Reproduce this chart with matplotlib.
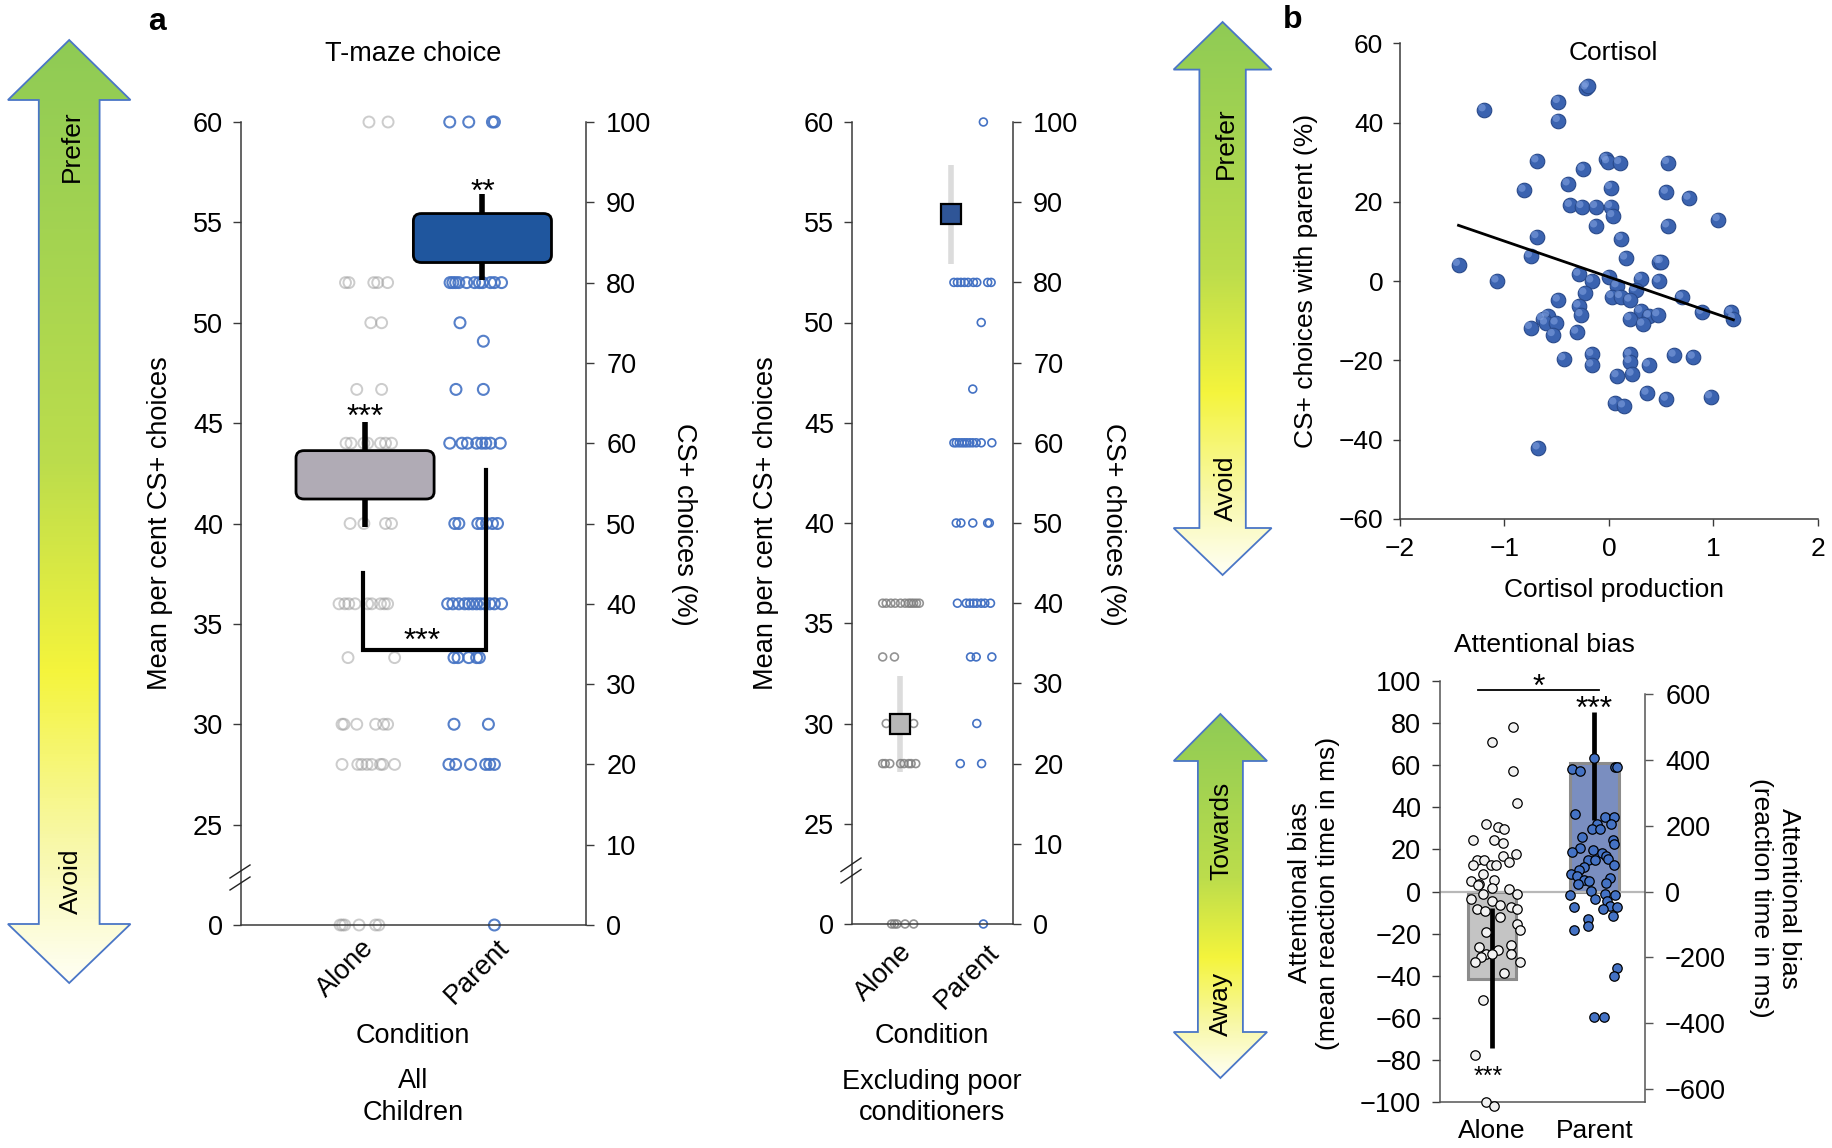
import numpy as np
import matplotlib
matplotlib.use('Agg')
import matplotlib.pyplot as plt
from matplotlib.patches import FancyBboxPatch, Polygon
from matplotlib.colors import LinearSegmentedColormap
from matplotlib.transforms import ScaledTranslation

plt.rcParams['font.family'] = ['Liberation Sans', 'DejaVu Sans']
plt.rcParams['axes.unicode_minus'] = True

# ---------------- data ----------------
conditions = ['Alone', 'Parent']

# Panel a (all children): CS+ choices (%) per child, rows of equal value with horizontal jitter
a1_alone_levels = [100, 80, 75, 66.7, 60, 50, 40, 33.3, 25, 20, 0]
a1_alone_jitter = [[0.034, 0.20],
                   [-0.17, -0.14, 0.076, 0.11, 0.196],
                   [0.05, 0.144],
                   [-0.072, 0.144],
                   [-0.165, -0.122, -0.01, 0.023, 0.134, 0.178, 0.23],
                   [-0.13, -0.01, 0.178, 0.23],
                   [-0.226, -0.176, -0.142, -0.087, 0.023, 0.058, 0.134, 0.168, 0.196],
                   [-0.148, 0.257],
                   [-0.2, -0.183, -0.072, 0.092, 0.161, 0.196],
                   [-0.2, -0.063, -0.028, 0.017, 0.058, 0.134, 0.154, 0.257],
                   [-0.217, -0.197, -0.176, -0.052, 0.092, 0.12]]
a1_parent_levels = [100, 80, 75, 72.7, 66.7, 60, 50, 40, 33.3, 25, 20, 0]
a1_parent_jitter = [[-0.264, -0.099, 0.107, 0.124],
                    [-0.261, -0.237, -0.213, -0.185, -0.117, -0.048, -0.007, 0.021, 0.09, 0.124, 0.186],
                    [-0.175],
                    [0.028],
                    [-0.21, 0.028],
                    [-0.264, -0.158, -0.11, -0.03, 0.014, 0.049, 0.09, 0.175],
                    [-0.22, -0.185, -0.02, 0.014, 0.056, 0.107, 0.151],
                    [-0.282, -0.237, -0.185, -0.134, -0.099, -0.065, -0.03, 0.003, 0.038, 0.083, 0.124, 0.186],
                    [-0.227, -0.192, -0.099, -0.03, -0.007],
                    [-0.227, 0.072],
                    [-0.271, -0.213, -0.083, 0.049, 0.083, 0.124],
                    [0.124]]
# box (mean per cent CS+ choices, left-axis units)
a1_box_low = [41.22, 53.0]
a1_box_high = [43.63, 55.44]
a1_whisk_low = [39.84, 52.12]
a1_whisk_high = [45.08, 56.4]
a1_bracket = [37.52, 33.68, 42.68]   # left top, bottom, right top (left-axis units)

# Panel a (excluding poor conditioners)
a2_alone_levels = [40, 33.3, 25, 20, 0]
a2_alone_jitter = [[-0.243, -0.194, -0.129, -0.069, 0.006, 0.069, 0.119, 0.153, 0.189, 0.228, 0.268],
                   [-0.243, -0.079],
                   [-0.194, -0.06, -0.01, 0.054, 0.089, 0.189],
                   [-0.243, -0.208, -0.144, 0.006, 0.054, 0.119, 0.153, 0.218],
                   [-0.119, -0.079, -0.044, 0.069, 0.189]]
a2_parent_levels = [100, 80, 75, 66.7, 60, 50, 40, 33.3, 25, 20, 0]
a2_parent_jitter = [[0.161],
                    [-0.25, -0.201, -0.153, -0.103, -0.053, 0.022, 0.069, 0.221, 0.269],
                    [0.131],
                    [0.013],
                    [-0.25, -0.217, -0.176, -0.138, -0.103, -0.068, -0.028, 0.013, 0.061, 0.131, 0.279],
                    [-0.217, -0.153, 0.013, 0.221, 0.244],
                    [-0.201, -0.078, -0.028, 0.022, 0.069, 0.131, 0.181, 0.26],
                    [-0.018, 0.061, 0.279],
                    [0.069],
                    [-0.161, 0.136],
                    [0.161]]
a2_mean = [30.0, 55.4]          # left-axis units
a2_err_low = [27.6, 52.92]
a2_err_high = [32.36, 57.88]

left_ticks = [0, 25, 30, 35, 40, 45, 50, 55, 60]
right_ticks = [0, 10, 20, 30, 40, 50, 60, 70, 80, 90, 100]

# Panel b: cortisol scatter
cort_x = [-1.194, -0.484, -0.484, -0.217, -0.205, -0.689, -0.025, -0.012, 0.103, 0.562,
          -0.246, -0.812, -0.390, 0.016, 0.550, 0.767, -0.369, -0.258, -0.127, 0.016,
          0.037, 1.046, -0.127, 0.562, -0.689, 0.119, -0.751, 0.160, 0.480, 0.501,
          -1.440, -1.071, -0.287, -0.164, -0.004, 0.304, 0.480, 0.078, 0.254, -0.484,
          -0.230, 0.029, 0.111, 0.201, 0.698, -0.287, -0.267, 0.304, 0.890, 1.169,
          1.190, 0.386, 0.468, -0.587, -0.636, -0.607, -0.505, 0.201, 0.324, -0.751,
          -0.533, -0.308, -0.431, -0.164, -0.164, 0.201, 0.201, 0.624, 0.808, 0.378,
          0.078, 0.222, 0.365, 0.550, 0.973, 0.057, 0.140, -0.677]
cort_y = [43.2, 45.3, 40.5, 48.7, 49.2, 30.3, 30.8, 30.1, 29.9, 29.9,
          28.2, 22.9, 24.5, 23.6, 22.4, 20.9, 19.1, 18.8, 18.8, 18.8,
          16.5, 15.5, 13.9, 13.9, 11.2, 10.7, 6.3, 5.8, 4.9, 4.9,
          4.2, 0.0, 1.7, 0.0, 1.1, 0.6, 0.0, -1.2, -2.2, -4.8,
          -3.1, -3.9, -3.9, -4.8, -4.1, -6.3, -8.5, -7.6, -7.9, -7.9,
          -9.5, -8.8, -8.5, -8.8, -9.5, -10.6, -10.6, -9.5, -10.9, -11.7,
          -13.5, -12.9, -19.6, -18.5, -21.2, -18.5, -20.3, -18.7, -19.2, -21.2,
          -23.9, -23.5, -28.3, -29.8, -29.2, -30.8, -31.5, -42.1]
fit_slope = -9.06
fit_intercept = 1.03

# Panel b: attentional bias
bias_bar = [-41.5, 61.0]
bias_ci_low = [-74.5, 34.2]
bias_ci_high = [-7.9, 85.4]
bias_alone = [78.2, 71.1, 57.1, 42.0, 32.0, 30.5, 29.7, 24.7, 24.7, 23.2, 17.8, 16.8, 14.8, 14.8,
              14.1, 12.8, 12.8, 12.8, 8.1, 4.8, 3.7, 5.6, 3.2, 1.5, 1.2, -1.3, -3.5, -1.0, -4.6,
              -6.3, -7.3, -8.5, -8.5, -9.3, -12.3, -15.6, -18.4, -19.3, -26.2, -25.6, -27.6,
              -29.6, -29.6, -29.6, -31.2, -33.4, -33.4, -38.9, -51.6, -77.7, -99.8, -101.8]
bias_alone_jit = [0.205, 0.0, 0.205, 0.247, -0.063, 0.063, 0.121, -0.188, 0.021, 0.105, 0.239, 0.105,
                  -0.147, -0.075, 0.167, -0.188, -0.013, 0.042, -0.084, -0.209, -0.130, 0.021, -0.138,
                  -0.004, 0.167, 0.247, -0.209, -0.088, -0.004, 0.080, 0.188, 0.247, -0.147, -0.067,
                  0.080, 0.247, 0.272, -0.063, -0.130, 0.188, 0.063, -0.063, -0.004, 0.188, -0.105,
                  -0.168, 0.272, 0.121, -0.088, -0.168, -0.063, 0.021]
bias_parent = [63.3, 58.3, 57.1, 59.1, 59.1, 36.9, 35.2, 35.2, 32.0, 32.0, 29.7, 29.7, 25.9, 24.7,
               22.7, 20.9, 18.9, 19.8, 18.4, 16.8, 15.3, 14.8, 14.8, 12.8, 11.5, 10.3, 8.1, 7.3,
               5.6, 4.8, 6.5, 4.0, 3.7, 0.3, -1.5, -1.0, -1.5, -3.5, -4.6, -6.8, -7.3, -7.3, -8.5,
               -11.5, -13.1, -16.4, -18.4, -36.4, -40.3, -59.6, -59.6]
bias_parent_jit = [0.0, -0.222, -0.138, 0.197, 0.218, -0.188, 0.105, 0.188, 0.029, 0.163, -0.021, 0.050,
                   -0.117, 0.176, 0.188, -0.138, -0.222, -0.013, 0.071, 0.113, 0.134, -0.063, 0.008,
                   0.188, -0.105, -0.147, -0.230, -0.172, -0.105, -0.054, 0.147, 0.113, -0.159, -0.033,
                   -0.243, 0.105, 0.197, 0.008, 0.121, 0.155, 0.218, -0.201, 0.080, 0.176, -0.063,
                   -0.063, -0.201, 0.218, 0.188, -0.004, 0.092]
bias_ms_scale = 6.385   # right axis (ms) per left-axis unit

# ---------------- helpers ----------------
W, H = 1833, 1148
fig = plt.figure(figsize=(W / 100, H / 100), dpi=100)

FS_A = 19.5
FS_B = 19
FS_STAR = 23


def rect(l, t, r, b):
    return [l / W, 1 - b / H, (r - l) / W, (b - t) / H]


def ftext(x, y, s, **kw):
    kw.setdefault('ha', 'center')
    kw.setdefault('va', 'center')
    kw.setdefault('zorder', 30)
    return fig.text(x / W, 1 - y / H, s, **kw)


def l2p(v):
    """left-axis value (broken axis) -> percent position"""
    v = np.asarray(v, dtype=float)
    return np.where(v == 0, 0.0, (v - 20.0) / 0.4)


def expand(levels, jitter, center):
    xs, ys = [], []
    for lv, offs in zip(levels, jitter):
        for o in offs:
            xs.append(center + o)
            ys.append(lv)
    return np.array(xs), np.array(ys)


SPINE = '#3a3a3a'

# ---------------- overlay (arrows, decorations) ----------------
ov = fig.add_axes([0, 0, 1, 1], zorder=10)
ov.patch.set_alpha(0)
ov.axis('off')

cmap = LinearSegmentedColormap.from_list(
    'arr', [(0, '#8fcb55'), (0.45, '#bcdd4c'), (0.67, '#f4f43c'), (0.85, '#f8f8a6'), (1, '#fffff4')])


def double_arrow(cx, tip_top, base_top, base_bot, tip_bot, head_half, shaft_half):
    pts = [(cx, tip_top), (cx + head_half, base_top), (cx + shaft_half, base_top),
           (cx + shaft_half, base_bot), (cx + head_half, base_bot), (cx, tip_bot),
           (cx - head_half, base_bot), (cx - shaft_half, base_bot), (cx - shaft_half, base_top),
           (cx - head_half, base_top)]
    poly = Polygon(pts, closed=True, facecolor='none', edgecolor='#4a76c6', lw=1.3, zorder=3)
    ov.add_patch(poly)
    grad = np.linspace(0, 1, 256).reshape(-1, 1)
    im = ov.imshow(grad, cmap=cmap, aspect='auto', interpolation='bilinear',
                   extent=(cx - head_half, cx + head_half, tip_bot, tip_top), zorder=2)
    im.set_clip_path(poly)


double_arrow(69.2, 40, 100, 924, 983, 61.3, 30.4)
double_arrow(1222.6, 22, 69.6, 528, 575, 49.0, 23.2)
double_arrow(1220.4, 714, 761, 1032, 1078, 46.7, 22.5)

# break marks on broken axes
for (x0, y0, x1, y1) in [(230, 878, 250, 865), (230, 890, 250, 877),
                         (841, 871.5, 861, 858), (841, 883, 861, 869.5)]:
    ov.plot([x0, x1], [y0, y1], color='#222222', lw=1.0, zorder=5)
ov.set_xlim(0, W)
ov.set_ylim(H, 0)

ftext(72, 146, 'Prefer', rotation=90, fontsize=FS_B)
ftext(71, 881, 'Avoid', rotation=90, fontsize=FS_B)
ftext(1226, 143, 'Prefer', rotation=90, fontsize=FS_B)
ftext(1226, 488, 'Avoid', rotation=90, fontsize=FS_B)
ftext(1221, 831, 'Towards', rotation=90, fontsize=FS_B)
ftext(1221, 1004, 'Away', rotation=90, fontsize=FS_B)

ftext(157, 22, 'a', fontsize=23, fontweight='bold')
ftext(1293, 20, 'b', fontsize=23, fontweight='bold')


def style_broken(ax, axr, label_x, pad_x):
    ax.set_ylim(0, 100)
    axr.set_ylim(0, 100)
    ax.set_yticks(l2p(left_ticks))
    ax.set_yticklabels([str(v) for v in left_ticks])
    axr.set_yticks(right_ticks)
    axr.set_yticklabels([str(v) for v in right_ticks])
    for a in (ax, axr):
        a.spines['top'].set_visible(False)
        for s in a.spines.values():
            s.set_color(SPINE)
            s.set_linewidth(1.1)
    ax.spines['right'].set_visible(False)
    axr.spines['left'].set_visible(False)
    axr.spines['bottom'].set_visible(False)
    ax.tick_params(axis='y', direction='out', length=5.5, width=1, pad=7.5, labelsize=FS_A, colors='k')
    ax.tick_params(axis='y', color=SPINE)
    axr.tick_params(axis='y', direction='out', length=5.5, width=1, pad=9, labelsize=FS_A, color=SPINE)
    ax.set_xticks(label_x)
    ax.set_xticklabels(conditions, rotation=45, ha='right', va='top', fontsize=FS_A)
    ax.tick_params(axis='x', length=0, pad=pad_x)


# ---------------- panel a: all children ----------------
ax1 = fig.add_axes(rect(241, 122, 586, 925))
ax1.set_xlim(-1.078, 1.92)
ax1r = ax1.twinx()
style_broken(ax1, ax1r, [0.12, 1.3], 7)

xa, ya = expand(a1_alone_levels, a1_alone_jitter, 0)
ax1.scatter(xa, ya, s=62, facecolors='none', edgecolors='#9a9a9a', linewidths=1.4,
            alpha=0.5, clip_on=False, zorder=2)
xp, yp = expand(a1_parent_levels, a1_parent_jitter, 1)
ax1.scatter(xp, yp, s=62, facecolors='none', edgecolors='#4472c4', linewidths=1.5,
            alpha=0.9, clip_on=False, zorder=2)

box_center = [0.0, 1.02]
box_half = 0.6
box_colors = ['#b0abb5', '#1f569e']
for i in range(2):
    ax1.plot([box_center[i], box_center[i]], l2p([a1_whisk_low[i], a1_whisk_high[i]]),
             color='k', lw=4, solid_capstyle='butt', zorder=3)
    lo, hi = l2p(a1_box_low[i]), l2p(a1_box_high[i])
    bp = FancyBboxPatch((box_center[i] - box_half, lo), 2 * box_half, hi - lo,
                        boxstyle='round,pad=0,rounding_size=0.07', mutation_aspect=13,
                        facecolor=box_colors[i], edgecolor='k', lw=2.0, zorder=4)
    ax1.add_patch(bp)

bx = [-0.02, 1.055]
ax1.plot([bx[0], bx[0], bx[1], bx[1]], l2p([a1_bracket[0], a1_bracket[1], a1_bracket[1], a1_bracket[2]]),
         color='k', lw=3, solid_joinstyle='miter', zorder=5)
ax1.text(0.5, l2p(34.1), '***', ha='center', va='center', fontsize=FS_STAR, zorder=6)
ax1.text(0.0, l2p(45.25), '***', ha='center', va='center', fontsize=FS_STAR, zorder=6)
ax1.text(1.02, l2p(56.45), '**', ha='center', va='center', fontsize=FS_STAR, zorder=6)

ftext(413, 54, 'T-maze choice', fontsize=FS_A)
ftext(160, 523, 'Mean per cent CS+ choices', rotation=90, fontsize=FS_A)
ftext(684, 524, 'CS+ choices (%)', rotation=-90, fontsize=FS_A)
ftext(413, 1036, 'Condition', fontsize=FS_A)
ftext(413, 1081, 'All', fontsize=FS_A)
ftext(413, 1113, 'Children', fontsize=FS_A)

# ---------------- panel a: excluding poor conditioners ----------------
ax2 = fig.add_axes(rect(852, 122, 1013, 924))
ax2.set_xlim(-0.671, 1.574)
ax2r = ax2.twinx()
style_broken(ax2, ax2r, [0.24, 1.455], 11)

xa, ya = expand(a2_alone_levels, a2_alone_jitter, 0)
ax2.scatter(xa, ya, s=32, facecolors='none', edgecolors='#808080', linewidths=1.2,
            alpha=0.85, clip_on=False, zorder=2)
xp, yp = expand(a2_parent_levels, a2_parent_jitter, 1)
ax2.scatter(xp, yp, s=32, facecolors='none', edgecolors='#4472c4', linewidths=1.2,
            clip_on=False, zorder=2)
mean_x = [0.0, 0.71]
mean_colors = ['#b8b8b8', '#2f5597']
for i in range(2):
    ax2.plot([mean_x[i], mean_x[i]], l2p([a2_err_low[i], a2_err_high[i]]), color='#dcdcdc',
             lw=4, solid_capstyle='butt', zorder=1)
    ax2.plot([mean_x[i]], [l2p(a2_mean[i])], marker='s', ms=14, mfc=mean_colors[i], mec='k',
             mew=1.6, zorder=4, ls='none')

ftext(766, 523, 'Mean per cent CS+ choices', rotation=90, fontsize=FS_A)
ftext(1113, 524, 'CS+ choices (%)', rotation=-90, fontsize=FS_A)
ftext(932, 1036, 'Condition', fontsize=FS_A)
ftext(932, 1082, 'Excluding poor', fontsize=FS_A)
ftext(932, 1113, 'conditioners', fontsize=FS_A)

# ---------------- panel b: cortisol scatter ----------------
ax3 = fig.add_axes(rect(1400, 43.3, 1818, 519))
ax3.set_xlim(-2, 2)
ax3.set_ylim(-60, 60)
ax3.set_xticks([-2, -1, 0, 1, 2])
ax3.set_yticks([-60, -40, -20, 0, 20, 40, 60])
for s in ('top', 'right'):
    ax3.spines[s].set_visible(False)
for s in ('left', 'bottom'):
    ax3.spines[s].set_color(SPINE)
    ax3.spines[s].set_linewidth(1.1)
ax3.tick_params(direction='out', length=5, width=1, color=SPINE, labelsize=FS_B)
ax3.tick_params(axis='y', pad=7)
ax3.tick_params(axis='x', pad=8)
ax3.scatter(cort_x, cort_y, s=110, c='#3b63b0', edgecolors='#28498a', linewidths=0.8, zorder=3,
            clip_on=False)
hl = ax3.transData + ScaledTranslation(-0.022, 0.022, fig.dpi_scale_trans)
ax3.scatter(cort_x, cort_y, s=28, c='#86a6e4', edgecolors='none', alpha=0.55, zorder=4,
            transform=hl, clip_on=False)
fx_line = np.array([min(cort_x), max(cort_x)])
ax3.plot(fx_line, fit_slope * fx_line + fit_intercept, color='k', lw=2.0, zorder=5)
ftext(1613, 53, 'Cortisol', fontsize=FS_B)
ftext(1614, 590, 'Cortisol production', fontsize=FS_B)
ftext(1306, 281, 'CS+ choices with parent (%)', rotation=90, fontsize=FS_B)

# ---------------- panel b: attentional bias ----------------
ax4 = fig.add_axes(rect(1440, 681, 1645, 1102))
ax4.set_xlim(-0.507, 1.493)
ax4.set_ylim(-100, 100)
ax4.set_yticks(np.arange(-100, 101, 20))
ax4.set_xticks([0, 1])
ax4.set_xticklabels(conditions, fontsize=FS_B)
ax4.tick_params(axis='x', length=0, pad=12)
ax4.tick_params(axis='y', direction='out', length=5.5, width=1, color=SPINE, labelsize=FS_A, pad=8)
ax4.spines['top'].set_visible(False)
ax4.spines['right'].set_visible(False)
for s in ('left', 'bottom'):
    ax4.spines[s].set_color('#555555')
    ax4.spines[s].set_linewidth(1.1)
ax4.bar([0, 1], bias_bar, width=0.47, color=['#c4c4c4', '#7a8ec0'], edgecolor='#8c8c8c',
        linewidth=2.2, zorder=1)
ax4.axhline(0, color='#b8b8b8', lw=1.6, zorder=2)
ax4.vlines([0, 1], bias_ci_low, bias_ci_high, color='k', lw=3.4, zorder=3)
ax4.scatter(np.array(bias_alone_jit), bias_alone, s=46, c='#f2f2f2', edgecolors='k',
            linewidths=0.9, zorder=4, clip_on=False)
ax4.scatter(1 + np.array(bias_parent_jit), bias_parent, s=46, c='#4472c4', edgecolors='k',
            linewidths=0.9, zorder=4, clip_on=False)
ax4.plot([-0.14, 1.04], [95.6, 95.6], color='k', lw=1.3, zorder=5)
ax4.text(0.455, 96.5, '*', ha='center', va='center', fontsize=FS_STAR)
ax4.text(1.0, 86.5, '***', ha='center', va='center', fontsize=FS_STAR)
ax4.text(-0.04, -88, '***', ha='center', va='center', fontsize=18)

ax4r = ax4.twinx()
ax4r.set_ylim(-100 * bias_ms_scale, 100 * bias_ms_scale)
ax4r.set_yticks(np.arange(-600, 601, 200))
for s in ('top', 'left', 'bottom'):
    ax4r.spines[s].set_visible(False)
ax4r.spines['right'].set_color('#555555')
ax4r.spines['right'].set_linewidth(1.1)
ax4r.spines['right'].set_bounds(-100 * bias_ms_scale, 600)
ax4r.tick_params(axis='y', direction='out', length=5.5, width=1, color='#555555', labelsize=FS_A, pad=9)

ftext(1544, 645, 'Attentional bias', fontsize=FS_B)
ftext(1314, 893, 'Attentional bias\n(mean reaction time in ms)', rotation=90, fontsize=FS_B,
      multialignment='center', linespacing=1.25)
ftext(1775, 898, 'Attentional bias\n(reaction time in ms)', rotation=-90, fontsize=FS_B,
      multialignment='center', linespacing=1.25)

fig.savefig('out.png', dpi=100, facecolor='white')
